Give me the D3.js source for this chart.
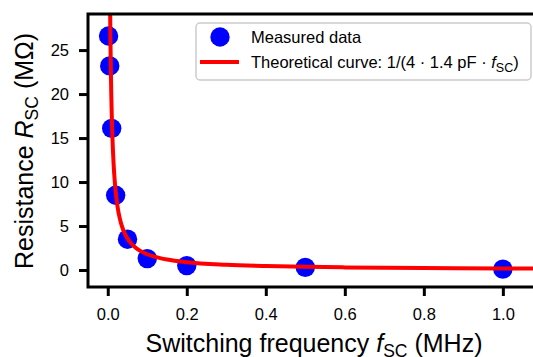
<!DOCTYPE html>
<meta charset="utf-8">
<script src="https://cdn.jsdelivr.net/npm/d3@7"></script>
<style>
  body { margin: 0; background: #fff; }
  text { font-family: "Liberation Sans", Arial, sans-serif; }
</style>
<div id="my_dataviz"></div>
<script>

// measured points (frequency in MHz, resistance in MOhm)
var measFreq = [0.002, 0.005, 0.01, 0.02, 0.05, 0.1, 0.2, 0.5, 1.0];
var measRes  = [26.6, 23.2, 16.1, 8.5, 3.5, 1.3, 0.5, 0.3, 0.1];

// theoretical curve 1/(4 * 1.4 pF * f), sampled values
var curveFreq = [0.0061, 0.0065, 0.007, 0.0075, 0.008, 0.009, 0.01, 0.011, 0.012, 0.013, 0.015, 0.017, 0.02, 0.025, 0.03, 0.035, 0.04, 0.05, 0.06, 0.07, 0.08, 0.1, 0.12, 0.15, 0.2, 0.3, 0.4, 0.5, 0.6, 0.8, 1.0, 1.1];
var curveRes  = [29.27, 27.47, 25.51, 23.81, 22.32, 19.84, 17.86, 16.23, 14.88, 13.74, 11.90, 10.50, 8.93, 7.14, 5.95, 5.10, 4.46, 3.57, 2.98, 2.55, 2.23, 1.79, 1.49, 1.19, 0.89, 0.60, 0.45, 0.36, 0.30, 0.22, 0.18, 0.16];

var xTicks = [0.0, 0.2, 0.4, 0.6, 0.8, 1.0];
var yTicks = [0, 5, 10, 15, 20, 25];

// plot area (right edge is cut off by the window)
var W = 533, H = 357;
var pLeft = 88, pRight = 540, pTop = 14, pBottom = 287;

var svg = d3.select("#my_dataviz")
  .append("svg")
    .attr("width", W)
    .attr("height", H);

var x = d3.scaleLinear()
  .domain([-0.05, 1.094])
  .range([pLeft, pRight]);

var y = d3.scaleLinear()
  .domain([-1.93, 29.1])
  .range([pBottom, pTop]);

svg.append("defs").append("clipPath")
    .attr("id", "clip")
  .append("rect")
    .attr("x", pLeft).attr("y", pTop)
    .attr("width", pRight - pLeft).attr("height", pBottom - pTop);

var plot = svg.append("g").attr("clip-path", "url(#clip)");

// points
var pts = measFreq.map(function(f, i) { return {f: f, r: measRes[i]}; });
plot.selectAll("circle.meas")
  .data(pts)
  .enter()
  .append("circle")
    .attr("class", "meas")
    .attr("cx", function(d) { return x(d.f); })
    .attr("cy", function(d) { return y(d.r); })
    .attr("r", 9.7)
    .attr("fill", "#0000ff");

// theory line on top
var curve = curveFreq.map(function(f, i) { return {f: f, r: curveRes[i]}; });
plot.append("path")
  .datum(curve)
  .attr("d", d3.line()
    .x(function(d) { return x(d.f); })
    .y(function(d) { return y(d.r); })
    .curve(d3.curveMonotoneX))
  .attr("fill", "none")
  .attr("stroke", "#ff0000")
  .attr("stroke-width", 4);

// X axis
var xAxis = svg.append("g")
  .attr("transform", "translate(0," + pBottom + ")")
  .call(d3.axisBottom(x).tickValues(xTicks).tickFormat(d3.format(".1f")).tickSize(9).tickPadding(12));

// Y axis
var yAxis = svg.append("g")
  .attr("transform", "translate(" + pLeft + ",0)")
  .call(d3.axisLeft(y).tickValues(yTicks).tickSize(9).tickPadding(10));

[xAxis, yAxis].forEach(function(a) {
  a.select(".domain").remove();
  a.selectAll(".tick line").attr("stroke", "#000").attr("stroke-width", 3);
  a.selectAll(".tick text")
    .attr("fill", "#000")
    .style("font-size", "16.5px")
    .style("font-family", "'Liberation Sans', Arial, sans-serif");
});

// spines (left, bottom, top)
svg.append("path")
  .attr("d", "M" + (pRight + 5) + "," + pTop + "H" + pLeft + "V" + pBottom + "H" + (pRight + 5))
  .attr("fill", "none")
  .attr("stroke", "#000")
  .attr("stroke-width", 3)
  .attr("stroke-linecap", "square");

// legend
var lg = svg.append("g");
lg.append("rect")
  .attr("x", 196).attr("y", 23)
  .attr("width", 335).attr("height", 57)
  .attr("rx", 4)
  .attr("fill", "#fff").attr("fill-opacity", 0.8)
  .attr("stroke", "#cccccc").attr("stroke-width", 1.5);
lg.append("circle")
  .attr("cx", 220).attr("cy", 37).attr("r", 9.7)
  .attr("fill", "#0000ff");
lg.append("line")
  .attr("x1", 200).attr("x2", 239)
  .attr("y1", 62).attr("y2", 62)
  .attr("stroke", "#ff0000").attr("stroke-width", 4);
lg.append("text")
  .attr("x", 251).attr("y", 42.5)
  .style("font-size", "16.5px")
  .text("Measured data");
var t2 = lg.append("text")
  .attr("x", 251).attr("y", 68)
  .style("font-size", "16.5px");
t2.append("tspan").text("Theoretical curve: 1/(4 \u00b7 1.4 pF \u00b7 ");
t2.append("tspan").attr("font-style", "italic").text("f");
t2.append("tspan").attr("dy", 3.5).style("font-size", "12.5px").text("SC");
t2.append("tspan").attr("dy", -3.5).text(")");

// axis labels
var xl = svg.append("text")
  .attr("x", 314).attr("y", 352)
  .attr("text-anchor", "middle")
  .style("font-size", "25px");
xl.append("tspan").text("Switching frequency ");
xl.append("tspan").attr("font-style", "italic").text("f");
xl.append("tspan").attr("dy", 5).style("font-size", "17.5px").text("SC");
xl.append("tspan").attr("dy", -5).text(" (MHz)");

var yl = svg.append("text")
  .attr("transform", "translate(33,151) rotate(-90)")
  .attr("text-anchor", "middle")
  .style("font-size", "25px");
yl.append("tspan").text("Resistance ");
yl.append("tspan").attr("font-style", "italic").text("R");
yl.append("tspan").attr("dy", 5).style("font-size", "17.5px").text("SC");
yl.append("tspan").attr("dy", -5).text(" (M\u03a9)");

</script>
